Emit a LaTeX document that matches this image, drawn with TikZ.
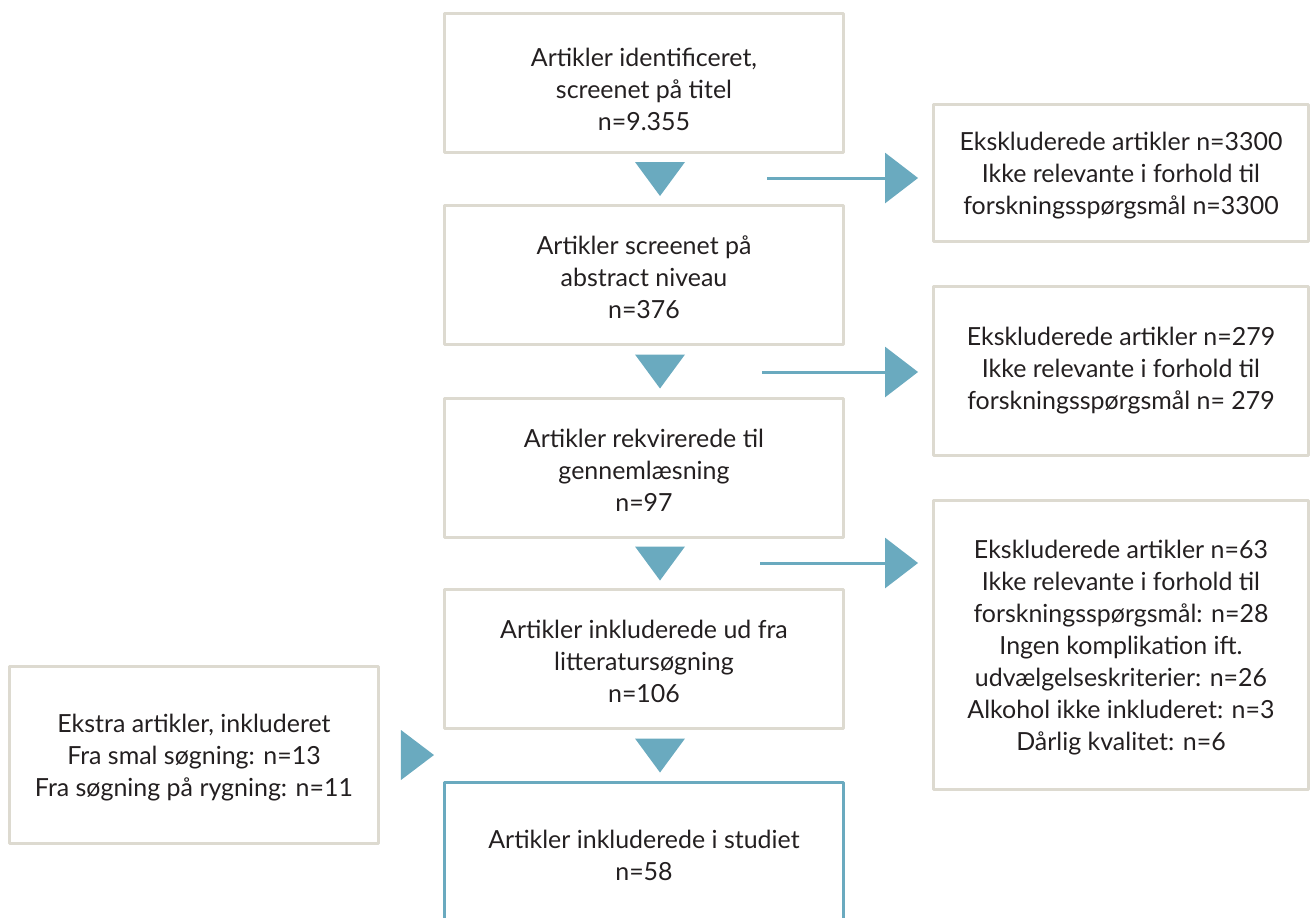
\documentclass[tikz,border=0pt]{standalone}
\usepackage{fontspec}
\setmainfont{Lato}
\usetikzlibrary{calc,arrows.meta}
\definecolor{boxgray}{HTML}{DDDAD0}
\definecolor{flowblue}{HTML}{6AAABF}
\definecolor{inktext}{HTML}{231F20}
\newcommand\toplift[1]{\rule{0pt}{#1}}
\begin{document}
\begin{tikzpicture}[x=0.02cm, y=-0.02cm, font=\fontsize{14.2}{18.2}\selectfont, line join=round,
	box/.style={draw=boxgray, line width=0.06cm, align=center, text=inktext, inner sep=0pt, minimum width=7.98cm, minimum height=2.78cm},
	sidebox/.style={box, minimum width=7.5cm},
	flow/.style={draw=flowblue, line width=0.06cm, shorten >=0.28cm, -{Triangle[length=0.66cm, width=1cm]}}]
	\useasboundingbox (0,0) rectangle (1311,917);
	\clip (0,0) rectangle (1311,917);
	\path
	(644,83) coordinate (B1)
	(644,275) coordinate (B2)
	(644,468) coordinate (B3)
	(644,659) coordinate (B4)
	(644,853) coordinate (B5)
	(1121,173) coordinate (R1)
	(1121,371) coordinate (R2)
	(1121,645) coordinate (R3)
	(194,755) coordinate (L1)
	(767,178) coordinate (S1)
	(762,372) coordinate (S2)
	(760,563) coordinate (S3);
	% main column
	\node[box] (b1) at (B1) {\toplift{0.63cm}Artikler identificeret,\\screenet på titel\\n=9.355};
	\node[box] (b2) at (B2) {\toplift{0.47cm}Artikler screenet på\\abstract niveau\\n=376};
	\node[box] (b3) at (B3) {\toplift{0.47cm}Artikler rekvirerede til\\gennemlæsning\\n=97};
	\node[box] (b4) at (B4) {\toplift{0.47cm}Artikler inkluderede ud fra\\litteratursøgning\\n=106};
	\node[box, draw=flowblue, minimum height=2.82cm] (b5) at (B5) {\toplift{0.47cm}Artikler inkluderede i studiet\\n=58};
	% side boxes
	\node[sidebox, minimum height=2.74cm] (r1) at (R1) {\toplift{0.47cm}Ekskluderede artikler n=3300\\Ikke relevante i forhold til\\forskningsspørgsmål n=3300};
	\node[sidebox, minimum height=3.38cm] (r2) at (R2) {Ekskluderede artikler n=279\\Ikke relevante i forhold til\\forskningsspørgsmål n= 279};
	\node[sidebox, minimum height=5.8cm] (r3) at (R3) {\toplift{0.47cm}Ekskluderede artikler n=63\\Ikke relevante i forhold til\\forskningsspørgsmål: n=28\\Ingen komplikation ift.\\udvælgelseskriterier: n=26\\Alkohol ikke inkluderet: n=3\\Dårlig kvalitet: n=6};
	\node[box, minimum width=7.38cm, minimum height=3.54cm] (lb) at (L1) {\toplift{0.47cm}Ekstra artikler, inkluderet\\Fra smal søgning: n=13\\Fra søgning på rygning: n=11};
	% arrows
	\foreach \u/\v in {b1/b2,b2/b3,b3/b4,b4/b5}
	\fill[flowblue] ($(\u.south)!0.5!(\v.north)+(16,0)$) ++(-25,-17) -- ++(50,0) -- ++(-25,34) -- cycle;
	\foreach \s/\r in {S1/r1,S2/r2,S3/r3}
	\draw[flow] (\s) -- (\s -| \r.west);
	\fill[flowblue] ($(lb.east)+(21,0)$) ++(0,-25) -- ++(33,25) -- ++(-33,25) -- cycle;
\end{tikzpicture}
\end{document}
